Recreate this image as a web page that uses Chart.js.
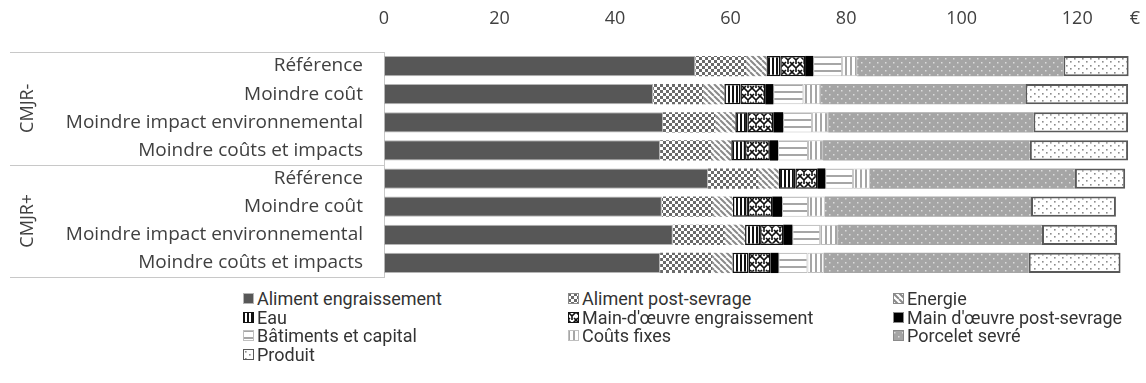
<!DOCTYPE html>
<html><head><meta charset="utf-8">
<script src="https://cdn.jsdelivr.net/npm/chart.js@4"></script>
<style>
html,body{margin:0;padding:0;background:#fff;}
#wrap{position:relative;width:1146px;height:383px;overflow:hidden;background:#fff;}
#chart{position:absolute;left:0;top:0;}
#legend{position:absolute;left:243px;top:289px;display:grid;grid-template-columns:325px 325px 325px;grid-auto-rows:18.7px;font-family:Roboto,"Liberation Sans",sans-serif;font-size:18px;color:#333;}
.li{display:flex;align-items:center;white-space:nowrap;}
.li canvas{width:11px;height:11px;margin-right:3px;}
</style></head>
<body>
<div id="wrap">
<canvas id="chart" width="1146" height="285"></canvas>
<div id="legend"></div>
</div>
<script>
// ---- data ----
const categories = ["Référence","Moindre coût","Moindre impact environnemental","Moindre coûts et impacts",
                    "Référence","Moindre coût","Moindre impact environnemental","Moindre coûts et impacts"];
const groups = ["CMJR-","CMJR+"];
const seriesNames = ["Aliment engraissement","Aliment post-sevrage","Energie","Eau","Main-d'œuvre engraissement",
                     "Main d'œuvre post-sevrage","Bâtiments et capital","Coûts fixes","Porcelet sevré","Produit"];
const alimentEngraissement = [53.9,46.6,48.3,47.8,56.1,48.1,50.0,47.8];
const alimentPostSevrage   = [8.8,8.7,9.0,8.8,8.7,8.8,9.0,9.0];
const energie              = [3.5,3.6,3.5,3.5,3.5,3.5,3.5,3.5];
const eau                  = [2.4,2.8,2.1,2.4,2.9,2.6,2.6,2.8];
const moEngraissement      = [4.3,4.3,4.5,4.3,3.8,4.2,4.0,3.8];
const moPostSevrage        = [1.4,1.4,1.7,1.4,1.4,1.7,1.6,1.4];
const batiments            = [5.0,5.2,5.0,5.2,4.8,4.5,4.8,5.0];
const coutsFixes           = [2.6,2.9,2.8,2.6,2.9,2.9,3.1,2.8];
const porceletSevre        = [35.7,35.5,35.5,35.8,35.5,35.7,35.3,35.5];
const produit              = [11.3,17.8,16.4,17.0,8.7,14.7,13.0,15.9];
const xTicks = [0,20,40,60,80,100,120];
const unitTick = 130;
const unitLabel = "€";

// ---- patterns ----
function makePattern(w,h,draw){
  const c=document.createElement('canvas');c.width=w;c.height=h;
  const x=c.getContext('2d');draw(x,w,h);
  return x.createPattern(c,'repeat');
}
const pats = {
  solidDark: '#575757',
  checker: makePattern(6,6,(x)=>{x.fillStyle='#fff';x.fillRect(0,0,6,6);x.fillStyle='#6a6a6a';x.fillRect(0,0,3,3);x.fillRect(3,3,3,3);}),
  diag: makePattern(6,6,(x)=>{x.fillStyle='#fff';x.fillRect(0,0,6,6);x.strokeStyle='#8a8a8a';x.lineWidth=2;
        x.beginPath();for(const k of [-6,0,6]){x.moveTo(k,0);x.lineTo(k+6,6);}x.stroke();}),
  vblack: makePattern(4,4,(x)=>{x.fillStyle='#fff';x.fillRect(0,0,4,4);x.fillStyle='#111';x.fillRect(0,0,2,4);}),
  weave: makePattern(8,8,(x)=>{x.fillStyle='#fff';x.fillRect(0,0,8,8);x.strokeStyle='#111';x.lineWidth=1.6;
        x.beginPath();x.moveTo(0,0);x.lineTo(4,4);x.moveTo(4,4);x.lineTo(8,0);x.moveTo(0,8);x.lineTo(2,6);
        x.moveTo(6,6);x.lineTo(8,8);x.moveTo(4,4);x.lineTo(4,8);x.stroke();}),
  black: '#000',
  hgrey: makePattern(6,7,(x)=>{x.fillStyle='#fff';x.fillRect(0,0,6,7);x.fillStyle='#a6a6a6';x.fillRect(0,0,6,2);}),
  vgrey: makePattern(5,6,(x)=>{x.fillStyle='#fff';x.fillRect(0,0,5,6);x.fillStyle='#a6a6a6';x.fillRect(0,0,2,6);}),
  dotsGrey: makePattern(8,8,(x)=>{x.fillStyle='#a5a5a5';x.fillRect(0,0,8,8);x.fillStyle='#dcdcdc';x.fillRect(1,2,1.5,1.5);x.fillRect(5,6,1.5,1.5);}),
  dotsWhite: makePattern(8,7,(x)=>{x.fillStyle='#fff';x.fillRect(0,0,8,7);x.fillStyle='#8c8c8c';x.fillRect(2,2,1.6,1.6);x.fillRect(6,5,1.6,1.6);})
};
const styles = [
  {bg:pats.solidDark,bc:'#b5b5b5',bw:1},
  {bg:pats.checker,bc:'rgba(0,0,0,0)',bw:0},
  {bg:pats.diag,bc:'rgba(0,0,0,0)',bw:0},
  {bg:pats.vblack,bc:'#111',bw:1.5},
  {bg:pats.weave,bc:'#111',bw:1.5},
  {bg:pats.black,bc:'#000',bw:0},
  {bg:pats.hgrey,bc:'#bfbfbf',bw:1},
  {bg:pats.vgrey,bc:'#bfbfbf',bw:1},
  {bg:pats.dotsGrey,bc:'rgba(0,0,0,0)',bw:0},
  {bg:pats.dotsWhite,bc:'#595959',bw:2}
];
const seriesData = [alimentEngraissement,alimentPostSevrage,energie,eau,moEngraissement,moPostSevrage,batiments,coutsFixes,porceletSevre,produit];

const datasets = seriesNames.map((n,i)=>({
  label:n, data:seriesData[i], backgroundColor:styles[i].bg, borderColor:styles[i].bc,
  borderWidth:styles[i].bw, borderSkipped:false, barPercentage:0.72, categoryPercentage:1
}));

const groupPlugin = {
  id:'groups',
  afterDraw(chart){
    const {ctx,chartArea} = chart; const y = chart.scales.y;
    const n = categories.length; const h = (y.bottom - y.top)/n;
    ctx.save();
    ctx.strokeStyle='#c8c8c8';ctx.lineWidth=1;
    const lines=[y.top, y.top+4*h, y.bottom];
    ctx.beginPath();
    for(const ly of lines){ctx.moveTo(10,Math.round(ly)+0.5);ctx.lineTo(chartArea.left,Math.round(ly)+0.5);}
    ctx.stroke();
    ctx.fillStyle='#404040';ctx.font='18px "Open Sans"';ctx.textAlign='center';ctx.textBaseline='middle';
    groups.forEach((g,gi)=>{
      const cy = y.top + (gi*4+2)*h;
      ctx.save();ctx.translate(28,cy);ctx.rotate(-Math.PI/2);ctx.fillText(g,0,0);ctx.restore();
    });
    ctx.restore();
  }
};

new Chart(document.getElementById('chart'),{
  type:'bar',
  data:{labels:categories,datasets},
  options:{
    indexAxis:'y',responsive:false,animation:false,devicePixelRatio:1,
    layout:{padding:{left:0,right:11,top:0,bottom:8}},
    plugins:{legend:{display:false},tooltip:{enabled:false}},
    scales:{
      x:{position:'top',stacked:true,min:0,max:unitTick,
         grid:{display:false,drawTicks:false},border:{display:false},
         afterBuildTicks:(ax)=>{ax.ticks=xTicks.concat([unitTick]).map(v=>({value:v}));},
         afterFit:(s)=>{s.height=52;s.paddingLeft=0;s.paddingRight=0;},
         ticks:{padding:22,color:'#404040',font:{family:'Open Sans',size:18},autoSkip:false,maxRotation:0,
                callback:(v)=> v===unitTick?unitLabel:String(v)}},
      y:{stacked:true,grid:{display:false,drawTicks:false},border:{display:true,color:'#c8c8c8'},
         afterFit:(s)=>{s.width=384;s.paddingTop=0;s.paddingBottom=0;},
         ticks:{padding:21,color:'#404040',font:{family:'Open Sans',size:19},autoSkip:false}}
    }
  },
  plugins:[groupPlugin]
});

// ---- HTML legend ----
const leg=document.getElementById('legend');
seriesNames.forEach((n,i)=>{
  const d=document.createElement('div');d.className='li';
  const c=document.createElement('canvas');c.width=11;c.height=11;
  const x=c.getContext('2d');x.fillStyle=styles[i].bg;x.fillRect(0,0,11,11);
  x.strokeStyle= styles[i].bw>0? styles[i].bc : (i===0?'#595959':'#8a8a8a');
  x.lineWidth=1;x.strokeRect(0.5,0.5,10,10);
  d.appendChild(c);
  const s=document.createElement('span');s.textContent=n;d.appendChild(s);
  leg.appendChild(d);
});
</script>
</body></html>
